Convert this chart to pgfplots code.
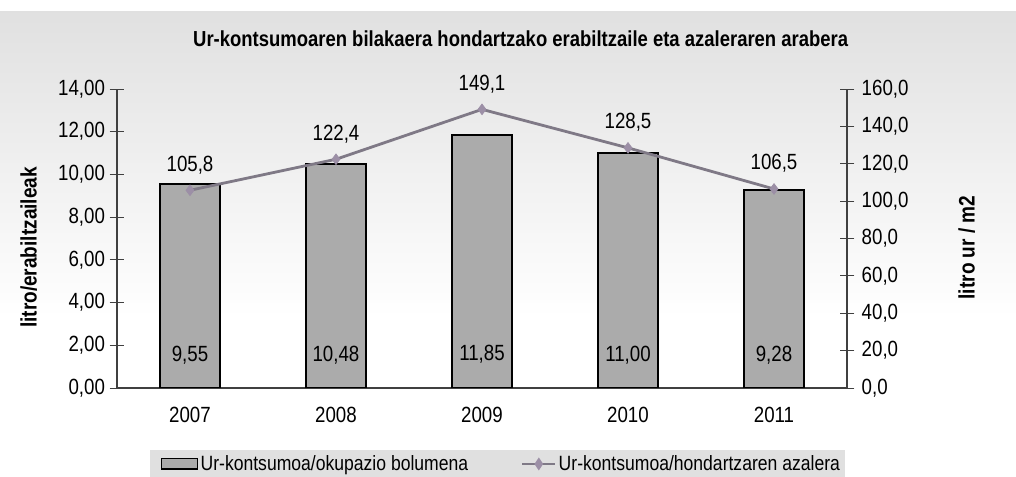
\documentclass[border=0pt]{standalone}
\usepackage{pgfplots}
\pgfplotsset{compat=1.18}
\usepackage{fontspec}
\setmainfont{Liberation Sans}[FakeStretch=0.85]
\definecolor{barfill}{HTML}{ABABAB}
\definecolor{linecol}{HTML}{7F7986}
\definecolor{markcol}{HTML}{9C8FA6}
\definecolor{axcol}{HTML}{404040}
\begin{document}
\begin{tikzpicture}[x=1pt,y=1pt]
\path[use as bounding box] (0,0) rectangle (762,357.75);
\fill[white] (0,0) rectangle (762,357.75);
\shade[top color=gray!24, bottom color=white] (0,348.75) rectangle (762,120);
\fill[gray!24] (112.5,0) rectangle (634,20.25);
\begin{axis}[
  at={(87.75pt,66.75pt)}, anchor=south west,
  scale only axis, width=547.5pt, height=224.25pt,
  xmin=-0.5, xmax=4.5, ymin=0, ymax=14,
  axis y line*=left, axis x line*=bottom,
  axis line style={axcol, line width=0.8pt},
  xtick={0,1,2,3,4}, xticklabels={2007,2008,2009,2010,2011},
  major x tick style={draw=none},
  extra x ticks={-0.5,0.5,1.5,2.5,3.5}, extra x tick labels={},
  extra x tick style={tick align=outside, major tick length=9pt, tick style={axcol, line width=0.7pt}},
  ytick={0,2,...,14},
  tick align=center, major tick length=11pt,
  tick style={axcol, line width=0.7pt},
  tick label style={font=\fontsize{16.5}{19}\selectfont},
  xticklabel style={yshift=-5pt},
  /pgf/number format/.cd, fixed, fixed zerofill, precision=2, use comma, assume math mode=true, 1000 sep={},
  /pgfplots/.cd,
  ylabel={\bfseries litro/erabiltzaileak},
  ylabel style={font=\fontsize{16.8}{19}\selectfont, at={(rel axis cs:-0.121,0.47)}, anchor=center, rotate=0},
  title={\bfseries Ur-kontsumoaren bilakaera hondartzako erabiltzaile eta azaleraren arabera},
  title style={font=\fontsize{16.3}{19}\selectfont, at={(rel axis cs:0.553,1.140)}, anchor=center},
]
\addplot[ybar, bar width=0.41, fill=barfill, draw=black, line width=1.1pt] coordinates {
 (0,9.55) (1,10.48) (2,11.85) (3,11.00) (4,9.28)};
\addplot[draw=none, mark=none, forget plot, point meta=explicit,
  nodes near coords={\pgfmathprintnumber[fixed,fixed zerofill,precision=2,use comma,assume math mode=true]{\pgfplotspointmeta}},
  every node near coord/.style={anchor=center, font=\fontsize{16.5}{19}\selectfont}]
 coordinates {(0,1.55)[9.55] (1,1.55)[10.48] (2,1.6)[11.85] (3,1.55)[11.00] (4,1.55)[9.28]};
\end{axis}
\begin{axis}[
  at={(87.75pt,66.75pt)}, anchor=south west,
  scale only axis, width=547.5pt, height=224.25pt,
  xmin=-0.5, xmax=4.5, ymin=0, ymax=160,
  axis y line*=right, axis x line=none,
  axis line style={axcol, line width=0.8pt},
  ytick={0,20,...,160},
  tick align=center, major tick length=11pt,
  tick style={axcol, line width=0.7pt},
  tick label style={font=\fontsize{16.5}{19}\selectfont},
  yticklabel style={xshift=2pt},
  /pgf/number format/.cd, fixed, fixed zerofill, precision=1, use comma, assume math mode=true, 1000 sep={},
  /pgfplots/.cd,
  ylabel={\bfseries litro ur / m2},
  ylabel style={font=\fontsize{16.8}{19}\selectfont, at={(rel axis cs:1.164,0.47)}, anchor=center, rotate=0},
  legend columns=2,
  legend style={at={(rel axis cs:0.527,-0.254)}, anchor=center, draw=none, fill=none,
     font=\fontsize{15.5}{18}\selectfont, /tikz/every even column/.append style={column sep=38pt}},
]
\addlegendimage{legend image code/.code={\draw[fill=barfill, draw=black, line width=0.9pt] (0pt,-3.8pt) rectangle (27pt,3.8pt);}}
\addlegendentry{Ur-kontsumoa/okupazio bolumena}
\addplot[color=linecol, line width=2.1pt, mark=diamond*, mark size=4pt,
  mark options={fill=markcol, draw=markcol, line width=0.5pt},
  legend image code/.code={\draw[linecol, line width=0.9pt] (0pt,0pt) -- (25pt,0pt); \fill[markcol] (12.5pt,3pt) -- (14.5pt,0pt) -- (12.5pt,-3pt) -- (10.5pt,0pt) -- cycle;},
  nodes near coords={\pgfmathprintnumber[fixed,fixed zerofill,precision=1,use comma,assume math mode=true]{\pgfplotspointmeta}},
  every node near coord/.style={anchor=center, yshift=19pt, text=black, font=\fontsize{16.5}{19}\selectfont}]
 coordinates {(0,105.8) (1,122.4) (2,149.1) (3,128.5) (4,106.5)};
\addlegendentry{Ur-kontsumoa/hondartzaren azalera}
\end{axis}
\end{tikzpicture}
\end{document}
